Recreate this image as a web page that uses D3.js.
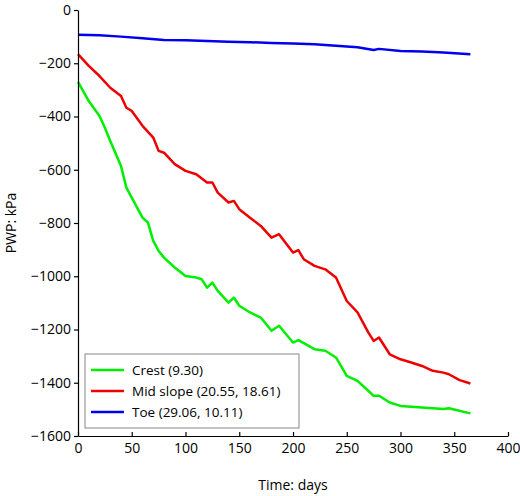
<!DOCTYPE html>
<html><head><meta charset="utf-8">
<script src="https://cdn.jsdelivr.net/npm/d3@7"></script>
<style>body{margin:0;background:#fff}text{font-family:"Open Sans",sans-serif}</style>
</head><body><svg id="c" width="520" height="496"></svg>
<script>
const crestDays=[0,10,20,25,30,40,45,50,60,65,70,75,80,90,100,110,115,120,125,130,140,145,150,160,170,180,187,200,205,220,230,240,250,260,270,275,280,290,300,320,340,345,365];
const crestVals=[-270,-342,-398,-442,-492,-586,-667,-705,-780,-798,-867,-905,-930,-967,-999,-1005,-1011,-1043,-1024,-1055,-1099,-1080,-1111,-1136,-1155,-1205,-1186,-1249,-1240,-1274,-1280,-1305,-1374,-1393,-1430,-1449,-1449,-1474,-1487,-1493,-1499,-1496,-1515];
const midDays=[0,10,20,30,40,45,50,60,70,75,80,90,100,110,120,125,130,140,145,150,160,170,180,187,200,205,210,220,230,240,250,260,270,275,280,290,300,310,320,330,340,345,355,365];
const midVals=[-166,-210,-248,-292,-323,-367,-379,-435,-479,-529,-536,-579,-604,-617,-648,-648,-686,-723,-717,-748,-780,-811,-855,-842,-911,-902,-936,-961,-974,-1005,-1093,-1136,-1211,-1243,-1230,-1293,-1312,-1324,-1337,-1355,-1362,-1368,-1390,-1403];
const toeDays=[0,20,40,60,80,100,120,140,160,180,200,220,240,260,275,280,300,320,340,365];
const toeVals=[-93,-95,-100,-106,-113,-114,-116,-119,-121,-124,-126,-129,-134,-140,-150,-146,-154,-156,-160,-166];
const seriesNames=["Crest (9.30)","Mid slope (20.55, 18.61)","Toe (29.06, 10.11)"];
const colors=["#00ee00","#ee0000","#0000ee"];
const xTicks=[0,50,100,150,200,250,300,350,400];
const yTicks=[0,-200,-400,-600,-800,-1000,-1200,-1400,-1600];

const svg=d3.select("#c");
const x=d3.scaleLinear().domain([0,400]).range([78,508]);
const y=d3.scaleLinear().domain([-1600,0]).range([436,10]);
const series=[[crestDays,crestVals],[midDays,midVals],[toeDays,toeVals]];
const line=d3.line().x(d=>x(d[0])).y(d=>y(d[1]));
series.forEach((s,i)=>{
  svg.append("path").datum(s[0].map((d,j)=>[d,s[1][j]])).attr("d",line)
   .attr("fill","none").attr("stroke",colors[i]).attr("stroke-width",2.5).attr("stroke-linejoin","round");
});
const xa=svg.append("g").attr("transform","translate(0,436)").call(d3.axisBottom(x).tickValues(xTicks).tickFormat(d3.format("d")).tickSizeInner(-4).tickSizeOuter(0).tickPadding(7));
const ya=svg.append("g").attr("transform","translate(78,0)").call(d3.axisLeft(y).tickValues(yTicks).tickFormat(d3.format("d")).tickSize(4).tickSizeOuter(0).tickPadding(3));
[xa,ya].forEach(a=>{a.selectAll("text").attr("font-size",14).attr("font-family","Open Sans").attr("fill","#000");a.selectAll("line,path").attr("stroke","#000").attr("stroke-width",1.2);});
xa.selectAll(".tick line").attr("y2",-4);
svg.append("text").attr("x",293).attr("y",490).attr("text-anchor","middle").attr("font-size",14).text("Time: days");
svg.append("text").attr("transform","translate(16,223) rotate(-90)").attr("text-anchor","middle").attr("font-size",14).text("PWP: kPa");
const lg=svg.append("g");
lg.append("rect").attr("x",85).attr("y",354).attr("width",214).attr("height",74).attr("fill","#fff").attr("stroke","#888");
seriesNames.forEach((n,i)=>{
  const yy=370+i*21;
  lg.append("line").attr("x1",91).attr("x2",124).attr("y1",yy).attr("y2",yy).attr("stroke",colors[i]).attr("stroke-width",2.5);
  lg.append("text").attr("x",132).attr("y",yy+5).attr("font-size",13.5).text(n);
});
</script></body></html>
